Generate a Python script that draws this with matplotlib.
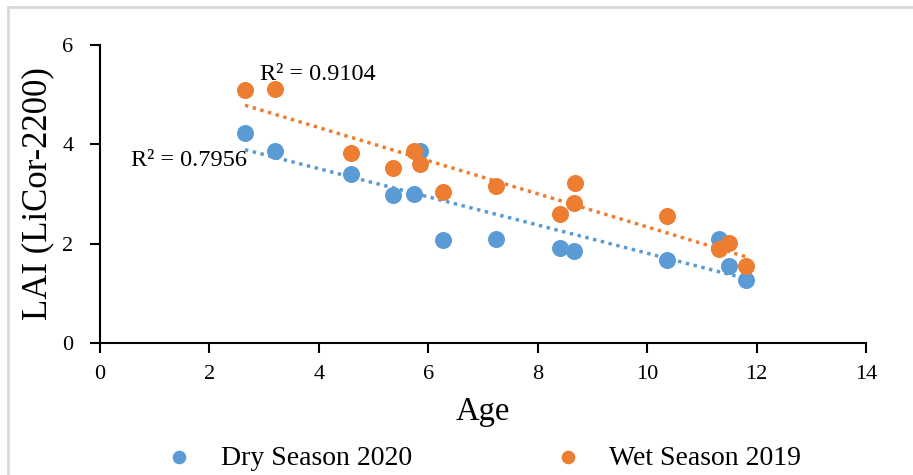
import numpy as np
import matplotlib.pyplot as plt
from matplotlib.lines import Line2D

plt.rcParams['font.family'] = ['Liberation Serif', 'DejaVu Serif']

# LAI readings per stand age
dry_age = [2.65, 3.2, 4.59, 5.36, 5.74, 5.85, 6.27, 7.24, 8.41, 8.67, 10.37, 11.32, 11.5, 11.81]
dry_lai = [4.22, 3.86, 3.40, 2.98, 3.00, 3.86, 2.07, 2.09, 1.91, 1.85, 1.67, 2.09, 1.55, 1.27]

wet_age = [2.65, 3.2, 4.59, 5.36, 5.74, 5.85, 6.27, 7.24, 8.41, 8.67, 8.69, 10.37, 11.32, 11.5, 11.81]
wet_lai = [5.09, 5.11, 3.82, 3.52, 3.86, 3.60, 3.04, 3.16, 2.60, 2.82, 3.22, 2.56, 1.89, 2.01, 1.55]

dry_r2 = 'R² = 0.7956'
wet_r2 = 'R² = 0.9104'

blue = '#5b9bd5'
orange = '#ed7d31'

fig = plt.figure(figsize=(9.13, 4.75), dpi=100)
ax = fig.add_axes([0.1095, 0.278, 0.839, 0.627])

ax.scatter(dry_age, dry_lai, s=150, color=blue, label='Dry Season 2020', zorder=3, linewidths=0)
ax.scatter(wet_age, wet_lai, s=150, color=orange, label='Wet Season 2019', zorder=3, linewidths=0)

# linear trendlines
for xs, ys, c in [(dry_age, dry_lai, blue), (wet_age, wet_lai, orange)]:
    k, b = np.polyfit(xs, ys, 1)
    xx = np.array([min(xs), max(xs)])
    ax.plot(xx, k * xx + b, color=c, lw=2.5, ls=(0, (1, 1.3)), zorder=2)

ax.text(2.68, 3.68, dry_r2, fontsize=17.5, ha='right', va='center')
ax.text(2.93, 5.41, wet_r2, fontsize=17.5, ha='left', va='center')

ax.set_xlim(0, 14)
ax.set_ylim(0, 6)
ax.set_xticks(range(0, 15, 2))
ax.set_yticks(range(0, 7, 2))
ax.tick_params(labelsize=16, width=1.5, length=7, direction='out')
ax.tick_params(axis='x', pad=9)
ax.tick_params(axis='y', pad=12)
for s in ['top', 'right']:
    ax.spines[s].set_visible(False)
for s in ['left', 'bottom']:
    ax.spines[s].set_linewidth(1.5)

ax.set_xlabel('Age', fontsize=23.5, labelpad=9)
ax.set_ylabel('LAI (LiCor-2200)', fontsize=25, labelpad=6)

fig.legend(loc='center', bbox_to_anchor=(0.522, 0.036), ncol=2, frameon=False,
           fontsize=20, markerscale=0.8, columnspacing=4.6, handletextpad=0.5)

# thin frame on the top and left edges
fig.add_artist(Line2D([0.009, 1.0], [0.985, 0.985], transform=fig.transFigure, color='#d9d9d9', lw=2))
fig.add_artist(Line2D([0.009, 0.009], [0.0, 0.985], transform=fig.transFigure, color='#d9d9d9', lw=2))

fig.savefig('out.png', dpi=100)
